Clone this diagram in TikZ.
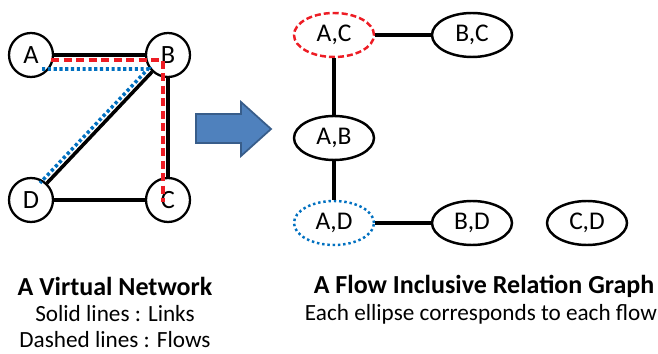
\documentclass[tikz,border=0pt]{standalone}
\usepackage{fontspec}
\setmainfont{Carlito}
\usetikzlibrary{positioning,shapes.geometric,calc}

\definecolor{flowred}{RGB}{237,28,36}
\definecolor{flowblue}{RGB}{0,112,192}
\definecolor{arrowfill}{RGB}{79,129,189}
\definecolor{arrowline}{RGB}{56,93,138}

\tikzset{
  vnode/.style={circle, draw, line width=1.3pt, minimum size=0.88cm, inner sep=0pt, font=\fontsize{15}{17}\selectfont},
  fnode/.style={ellipse, draw, line width=1.4pt, minimum width=1.6cm, minimum height=0.88cm, inner sep=0pt, font=\fontsize{14.5}{17}\selectfont},
  link/.style={line width=2pt},
  flowac/.style={flowred, line width=2pt, dash pattern=on 0.16cm off 0.09cm},
  flowad/.style={flowblue, line width=2pt, dash pattern=on 1.8pt off 1.5pt},
}

\begin{document}
\begin{tikzpicture}[x=0.02cm, y=-0.02cm]
        \useasboundingbox (0,0) rectangle (658,354);

        % Virtual network
        \node[vnode] (A) at (31, 55) {A};
        \node[vnode] (B) at (168, 55) {B};
        \node[vnode] (C) at (168, 200) {C};
        \node[vnode] (D) at (31, 200) {D};

        % Links
        \draw[link] (A) -- (B);
        \draw[link] (B) -- (C);
        \draw[link] (B) -- (D);
        \draw[link] (D) -- (C);

        % Flows
        \draw[flowac] ($(A.east)+(-3,5)$) -| ($(C.center)+(-5,2)$);
        \draw[flowad] ($(A)+(11,14)$) -- ($(B)+(-20,14)$) -- ($(D)+(9,-17)$);

        % Arrow
        \draw[fill=arrowfill, draw=arrowline, line width=1pt]
          (196,114) -- (241,114) -- (241,102) -- (271,129) -- (241,156) -- (241,143) -- (196,143) -- cycle;

        % Flow inclusive relation graph
        \node[fnode, draw=flowred, dash pattern=on 0.12cm off 0.06cm] (AC) at (334, 35) {A,C};
        \node[fnode] (BC) at (472, 35) {B,C};
        \node[fnode] (AB) at (334, 138) {A,B};
        \node[fnode, draw=flowblue, dash pattern=on 1.4pt off 1.6pt] (AD) at (334, 223) {A,D};
        \node[fnode] (BD) at (472, 223) {B,D};
        \node[fnode] (CD) at (587, 223) {C,D};

        \draw[link] (AC) -- (BC);
        \draw[link] (AC) -- (AB);
        \draw[link] (AB) -- (AD);
        \draw[link] (AD) -- (BD);

        % Captions
        \node[font=\bfseries\fontsize{14.8}{17}\selectfont] (vtitle) at (115, 286) {A Virtual Network};
        \node[font=\fontsize{13.2}{15}\selectfont] (vsolid) at (115, 314) {Solid lines : Links};
        \node[font=\fontsize{13.2}{15}\selectfont] (vdash) at (115, 340) {Dashed lines : Flows};
        \node[font=\bfseries\fontsize{14.8}{17}\selectfont] (gtitle) at (484, 286) {A Flow Inclusive Relation Graph};
        \node[font=\fontsize{13.2}{15}\selectfont] (gsub) at (481, 314) {Each ellipse corresponds to each flow};
    \end{tikzpicture}
\end{document}
